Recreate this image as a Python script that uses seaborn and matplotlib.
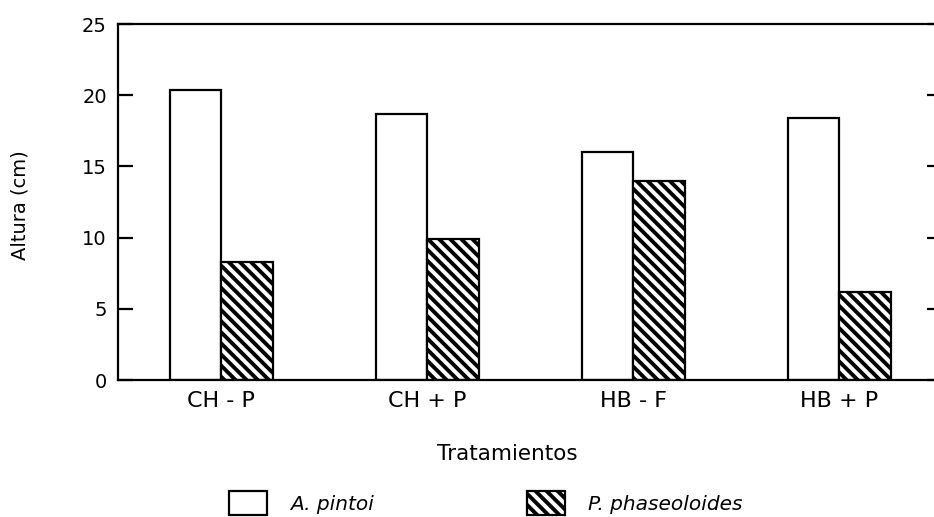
import matplotlib
matplotlib.use("Agg")
import matplotlib.pyplot as plt
import seaborn as sns
import pandas as pd

tratamientos = ["CH - P", "CH + P", "HB - F", "HB + P"]
especies = ["A. pintoi", "P. phaseoloides"]
a_pintoi = [20.4, 18.7, 16.0, 18.4]
p_phaseoloides = [8.3, 9.9, 14.0, 6.2]
y_ticks = [0, 5, 10, 15, 20, 25]

df = pd.DataFrame({
    "Tratamientos": tratamientos * 2,
    "Especie": [especies[0]] * 4 + [especies[1]] * 4,
    "Altura": a_pintoi + p_phaseoloides,
})

sns.set_theme(style="white")
plt.rcParams["font.family"] = ["DejaVu Sans"]
plt.rcParams["hatch.linewidth"] = 2.8
plt.rcParams["hatch.color"] = "black"
plt.rcParams["text.color"] = "black"

fig = plt.figure(figsize=(9.34, 5.17), dpi=100)
ax = fig.add_axes([118 / 934, 1 - 380 / 517, (942 - 118) / 934, (380 - 24) / 517])

sns.barplot(data=df, x="Tratamientos", y="Altura", hue="Especie",
            order=tratamientos, hue_order=especies,
            palette=["white", "white"], edgecolor="black", linewidth=1.6,
            width=0.5, gap=0, legend=False, ax=ax, saturation=1)

for patch in ax.containers[1]:
    patch.set_hatch("\\\\\\")

ax.set_xlim(-0.5, 3.5)
ax.set_ylim(0, 25)
ax.set_yticks(y_ticks)

for side in ["left", "bottom", "top"]:
    ax.spines[side].set_visible(True)
    ax.spines[side].set_color("black")
    ax.spines[side].set_linewidth(1.6)
ax.spines["right"].set_visible(False)

ax.tick_params(axis="y", which="both", left=True, right=True, direction="in",
               length=10.5, width=1.6, color="black", labelsize=14, pad=8,
               labelcolor="black")
ax.tick_params(axis="x", bottom=False, length=0, labelsize=16, pad=8,
               labelcolor="black")

ax.set_xlabel("Tratamientos", fontsize=15.5, color="black")
ax.xaxis.set_label_coords(0.473, -0.18)
ax.set_ylabel("Altura (cm)", fontsize=14, color="black")
ax.yaxis.set_label_coords(-0.108, 0.49)

fs_px = 14.5 * 100 / 72
fig.legend(handles=[ax.containers[0], ax.containers[1]], labels=especies,
           loc="center left", bbox_to_anchor=(229 / 934, 1 - 503 / 517),
           ncol=2, frameon=False, borderaxespad=0, borderpad=0,
           handlelength=38 / fs_px, handleheight=30 / fs_px,
           handletextpad=23 / fs_px, columnspacing=7.6,
           labelcolor="black",
           prop={"size": 14.5, "style": "italic"})

fig.savefig("out.png", dpi=100)
